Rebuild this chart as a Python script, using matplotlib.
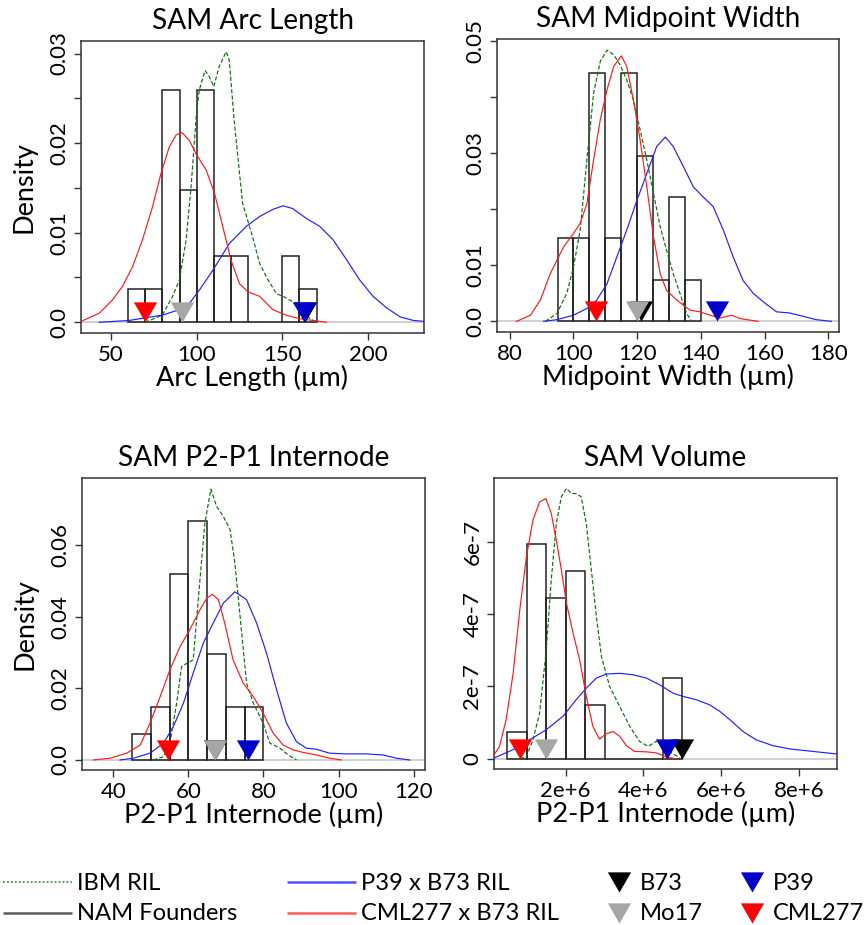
import matplotlib
matplotlib.use("Agg")
import matplotlib.pyplot as plt
from matplotlib.path import Path
import numpy as np

plt.rcParams['font.family'] = ['Lato', 'DejaVu Sans']

# ------------------------------------------------------------------ data
# Panel 1: SAM Arc Length
arc_edges = [60, 70, 80, 90, 100, 110, 120, 130, 140, 150, 160, 170]
arc_hist = [0.0037, 0.0037, 0.0259, 0.0148, 0.0259, 0.0074, 0.0074, 0.0, 0.0, 0.0074, 0.0037]
arc_ibm_x = [69.9, 80, 85.9, 89.9, 93.8, 96.7, 98.7, 100, 101.6, 104.9, 107.4, 110, 113, 117.2, 119,
             121.9, 126.8, 132.7, 136.7, 140.6, 146.5, 151.4, 156, 162, 168, 170]
arc_ibm_y = [0, 0.0008, 0.0029, 0.0047, 0.0092, 0.0151, 0.0203, 0.0237, 0.026, 0.0281, 0.0274, 0.0263,
             0.0285, 0.0302, 0.0293, 0.0225, 0.0133, 0.0095, 0.0066, 0.0051, 0.0032, 0.0028, 0.0023,
             0.001, 0.0002, 0]
arc_p39_x = [43, 60.5, 80, 89.9, 95.7, 101.6, 109.4, 119.1, 128.9, 136.7, 144.5, 150.4, 156, 164, 171.9,
             179.7, 187.5, 195.3, 203, 211, 218.8, 226.6, 233]
arc_p39_y = [0, 0.0002, 0.0008, 0.0014, 0.0021, 0.0036, 0.0058, 0.0088, 0.0107, 0.0118, 0.0126, 0.013,
             0.0127, 0.0116, 0.0107, 0.0092, 0.007, 0.0047, 0.0029, 0.0016, 0.0006, 0.0002, 0.0001]
arc_cml_x = [32.4, 43, 50.8, 56.6, 62.5, 68.3, 74.2, 79.1, 84, 87.9, 91.2, 95.7, 99.6, 105.5, 110.4,
             115.2, 120.1, 125, 129.9, 136.7, 144.5, 152, 160, 175.8]
arc_cml_y = [0.0001, 0.001, 0.0025, 0.004, 0.0062, 0.0092, 0.0129, 0.0166, 0.0196, 0.0209, 0.0212,
             0.0203, 0.0188, 0.017, 0.0144, 0.0107, 0.0069, 0.0043, 0.0034, 0.0029, 0.0014, 0.0008,
             0.0004, 0]
arc_parents = {'B73': 163.1, 'Mo17': 91.4, 'P39': 162.7, 'CML277': 69.7}

# Panel 2: SAM Midpoint Width
mid_edges = [95, 100, 105, 110, 115, 120, 125, 130, 135, 140]
mid_hist = [0.0148, 0.0148, 0.0444, 0.0148, 0.0444, 0.0296, 0.0074, 0.0222, 0.0074]
mid_ibm_x = [91.2, 94.8, 97.9, 100, 102.1, 104.2, 106.3, 108.4, 110.5, 112.6, 114.6, 116.7, 118.8,
             120.9, 123, 125.1, 127.2, 129.2, 131.3, 133.4, 135.5, 137.1]
mid_ibm_y = [0, 0.0014, 0.005, 0.0097, 0.0163, 0.0288, 0.0407, 0.0464, 0.0484, 0.0476, 0.0458, 0.0431,
             0.0395, 0.0342, 0.0288, 0.0228, 0.0169, 0.0127, 0.0085, 0.005, 0.0014, 0]
mid_p39_x = [90.6, 94.8, 100, 104.2, 107.3, 110.5, 113.6, 116.7, 119.9, 123, 126.1, 128.8, 131.3, 134.5,
             137.6, 140.7, 143.8, 147, 150.1, 153.2, 156.4, 159.5, 163.7, 167.8, 172, 176.2, 180.9]
mid_p39_y = [0, 0.0003, 0.0011, 0.0023, 0.0038, 0.0067, 0.0115, 0.0163, 0.0216, 0.0264, 0.0312, 0.0329,
             0.0312, 0.0276, 0.024, 0.0222, 0.0205, 0.0163, 0.0115, 0.0073, 0.005, 0.0035, 0.0017,
             0.0015, 0.0009, 0.0003, 0]
mid_cml_x = [82.1, 86.5, 89.6, 92.7, 95.3, 96.9, 100, 102.1, 104.2, 106.3, 108.4, 110.5, 112.6, 115,
             116.7, 118.8, 120.9, 123, 125.1, 127.2, 129.2, 132.4, 136.5, 139.7, 142.8, 145.9, 149.6,
             152.2, 157.9]
mid_cml_y = [0, 0.0011, 0.0038, 0.0085, 0.0115, 0.0133, 0.0157, 0.0175, 0.021, 0.0288, 0.036, 0.0413,
             0.0455, 0.0474, 0.0455, 0.0395, 0.0324, 0.024, 0.0151, 0.0085, 0.0055, 0.0038, 0.002,
             0.0017, 0.0011, 0.0006, 0.0011, 0.0005, 0]
mid_parents = {'B73': 121.1, 'Mo17': 119.9, 'P39': 145.1, 'CML277': 107.1}

# Panel 3: SAM P2-P1 Internode
int_edges = [45, 50, 55, 60, 65, 70, 75, 80]
int_hist = [0.0074, 0.0148, 0.0519, 0.0667, 0.0296, 0.0148, 0.0148]
int_ibm_x = [50.7, 53.4, 55.1, 56.9, 58.2, 59.6, 61.3, 63.1, 64.4, 66, 67.5, 69.3, 71.1, 72.4, 73.7,
             75.5, 77.3, 79.9, 81.7, 84.4, 86.6, 88.8]
int_ibm_y = [0, 0.0009, 0.0047, 0.0159, 0.0261, 0.027, 0.028, 0.0504, 0.0662, 0.0757, 0.0709, 0.0681,
             0.0644, 0.055, 0.041, 0.0215, 0.0159, 0.0103, 0.0047, 0.0033, 0.0014, 0]
int_p39_x = [41.8, 45.4, 49.8, 53.4, 56, 58.7, 61.3, 64, 66.6, 69.3, 72.4, 75.5, 78.2, 80.8, 83.5, 86.1,
             88.8, 91.4, 94.1, 97.6, 102.1, 107.4, 111.8, 115.4, 118.9]
int_p39_y = [0, 0.0005, 0.0019, 0.0047, 0.0093, 0.0159, 0.0243, 0.0327, 0.0382, 0.0438, 0.047, 0.0448,
             0.0382, 0.0299, 0.0196, 0.0103, 0.0051, 0.0033, 0.003, 0.0019, 0.0017, 0.0017, 0.0014,
             0.0005, 0]
int_cml_x = [34.8, 39.2, 43.6, 47.2, 49.8, 52.5, 55.1, 57.8, 60.4, 63.1, 64.9, 66.4, 68, 69.7, 71.9,
             74.6, 77.3, 79.9, 82.6, 85.2, 87.9, 90.6, 94.1, 97.6, 100.7]
int_cml_y = [0, 0.0005, 0.0019, 0.0042, 0.0103, 0.0177, 0.0252, 0.0317, 0.0364, 0.042, 0.0452, 0.0463,
             0.0448, 0.0382, 0.028, 0.0215, 0.0177, 0.0131, 0.0075, 0.0042, 0.0028, 0.0021, 0.0014,
             0.0005, 0]
int_parents = {'B73': 67.1, 'Mo17': 67.1, 'P39': 75.9, 'CML277': 54.7}

# Panel 4: SAM Volume
vol_edges = [0.5e6, 1.0e6, 1.5e6, 2.0e6, 2.5e6, 3.0e6, 3.5e6, 4.0e6, 4.5e6, 5.0e6]
vol_hist = [0.741e-7, 5.93e-7, 4.44e-7, 5.19e-7, 1.48e-7, 0.0, 0.0, 0.0, 2.22e-7]
vol_ibm_x = [0.82e6, 0.99e6, 1.16e6, 1.33e6, 1.50e6, 1.63e6, 1.76e6, 1.89e6, 2.02e6, 2.15e6, 2.27e6,
             2.40e6, 2.53e6, 2.66e6, 2.79e6, 2.92e6, 3.13e6, 3.39e6, 3.65e6, 3.90e6, 4.12e6, 4.33e6,
             4.50e6, 4.67e6, 4.93e6]
vol_ibm_y = [0, 0.06e-7, 0.52e-7, 1.26e-7, 3.0e-7, 4.94e-7, 6.5e-7, 7.24e-7, 7.47e-7, 7.33e-7, 7.33e-7,
             7.24e-7, 6.5e-7, 5.22e-7, 3.93e-7, 2.82e-7, 2.0e-7, 1.44e-7, 0.89e-7, 0.48e-7, 0.34e-7,
             0.48e-7, 0.43e-7, 0.2e-7, 0.02e-7]
vol_p39_x = [0.16e6, 0.65e6, 1.07e6, 1.50e6, 1.93e6, 2.27e6, 2.53e6, 2.79e6, 3.05e6, 3.39e6, 3.73e6,
             4.07e6, 4.42e6, 4.76e6, 5.02e6, 5.36e6, 5.70e6, 5.96e6, 6.22e6, 6.56e6, 6.90e6, 7.33e6,
             7.76e6, 8.19e6, 8.62e6, 8.98e6]
vol_p39_y = [0.02e-7, 0.25e-7, 0.52e-7, 0.8e-7, 1.17e-7, 1.63e-7, 1.95e-7, 2.23e-7, 2.34e-7, 2.36e-7,
             2.32e-7, 2.23e-7, 2.04e-7, 1.81e-7, 1.72e-7, 1.63e-7, 1.49e-7, 1.31e-7, 1.08e-7, 0.75e-7,
             0.52e-7, 0.36e-7, 0.27e-7, 0.22e-7, 0.17e-7, 0.13e-7]
vol_cml_x = [0.16e6, 0.30e6, 0.47e6, 0.65e6, 0.82e6, 0.99e6, 1.16e6, 1.33e6, 1.49e6, 1.63e6, 1.76e6,
             1.89e6, 2.02e6, 2.19e6, 2.36e6, 2.53e6, 2.70e6, 2.87e6, 3.04e6, 3.22e6, 3.39e6, 3.56e6,
             3.77e6, 4.07e6, 4.33e6, 4.59e6, 4.84e6]
vol_cml_y = [0.11e-7, 0.34e-7, 1.08e-7, 2.36e-7, 4.11e-7, 5.58e-7, 6.6e-7, 7.1e-7, 7.19e-7, 6.78e-7,
             6.04e-7, 5.22e-7, 4.3e-7, 3.47e-7, 2.73e-7, 1.72e-7, 0.89e-7, 0.54e-7, 0.69e-7, 0.75e-7,
             0.62e-7, 0.36e-7, 0.2e-7, 0.19e-7, 0.16e-7, 0.04e-7, 0]
vol_parents = {'B73': 4.99e6, 'Mo17': 1.49e6, 'P39': 4.6e6, 'CML277': 0.83e6}

titles = ['SAM Arc Length', 'SAM Midpoint Width', 'SAM P2-P1 Internode', 'SAM Volume']
xlabels = ['Arc Length (\u00b5m)', 'Midpoint Width (\u00b5m)', 'P2-P1 Internode (\u00b5m)',
           'P2-P1 Internode (\u00b5m)']
ylabels = ['Density', '', 'Density', '']

arc_xticks = [50, 100, 150, 200]
arc_xticklabels = ['50', '100', '150', '200']
arc_yticks = [0, 0.005, 0.01, 0.015, 0.02, 0.025, 0.03]
arc_yticklabels = ['0.0', '', '0.01', '', '0.02', '', '0.03']
mid_xticks = [80, 100, 120, 140, 160, 180]
mid_xticklabels = ['80', '100', '120', '140', '160', '180']
mid_yticks = [0, 0.01, 0.02, 0.03, 0.04, 0.05]
mid_yticklabels = ['0.0', '0.01', '', '0.03', '', '0.05']
int_xticks = [40, 60, 80, 100, 120]
int_xticklabels = ['40', '60', '80', '100', '120']
int_yticks = [0, 0.02, 0.04, 0.06]
int_yticklabels = ['0.0', '0.02', '0.04', '0.06']
vol_xticks = [2e6, 4e6, 6e6, 8e6]
vol_xticklabels = ['2e+6', '4e+6', '6e+6', '8e+6']
vol_yticks = [0, 2e-7, 4e-7, 6e-7]
vol_yticklabels = ['0', '2e-7', '4e-7', '6e-7']

parent_order = ['B73', 'Mo17', 'P39', 'CML277']
series_labels = ['IBM RIL', 'NAM Founders', 'P39 x B73 RIL', 'CML277 x B73 RIL']

# ------------------------------------------------------------------ style
C_IBM = '#0b6e0b'
C_P39 = '#2020ff'
C_CML = '#ff1a1a'
C_HIST = '#222222'
PARENT_COLORS = {'B73': '#000000', 'Mo17': '#a6a6a6', 'P39': '#0000c8', 'CML277': '#ff0000'}
TRI = Path([(0, 0), (-0.577, 1), (0.577, 1), (0, 0)],
           [Path.MOVETO, Path.LINETO, Path.LINETO, Path.CLOSEPOLY])
FS_TICK = 16
FS_LAB = 19.5
FS_TITLE = 20.2
FS_LEG = 17.1

W, H = 865, 925
fig = plt.figure(figsize=(W / 100, H / 100), dpi=100)


def px_axes(left, top, right, bottom):
    return fig.add_axes([left / W, 1 - bottom / H, (right - left) / W, (bottom - top) / H])


panels = [
    dict(box=(81, 41, 424, 333), xlim=(32.4, 232.8), ylim=(-0.0012, 0.0314),
         edges=arc_edges, hist=arc_hist,
         ibm=(arc_ibm_x, arc_ibm_y), p39=(arc_p39_x, arc_p39_y), cml=(arc_cml_x, arc_cml_y),
         parents=arc_parents, xt=arc_xticks, xtl=arc_xticklabels, yt=arc_yticks, ytl=arc_yticklabels),
    dict(box=(497, 39, 839, 332), xlim=(76.0, 183.3), ylim=(-0.0019, 0.0504),
         edges=mid_edges, hist=mid_hist,
         ibm=(mid_ibm_x, mid_ibm_y), p39=(mid_p39_x, mid_p39_y), cml=(mid_cml_x, mid_cml_y),
         parents=mid_parents, xt=mid_xticks, xtl=mid_xticklabels, yt=mid_yticks, ytl=mid_yticklabels),
    dict(box=(82, 478, 425, 770), xlim=(31.7, 123.0), ylim=(-0.0028, 0.0788),
         edges=int_edges, hist=int_hist,
         ibm=(int_ibm_x, int_ibm_y), p39=(int_p39_x, int_p39_y), cml=(int_cml_x, int_cml_y),
         parents=int_parents, xt=int_xticks, xtl=int_xticklabels, yt=int_yticks, ytl=int_yticklabels),
    dict(box=(494, 478, 837, 769), xlim=(0.158e6, 8.975e6), ylim=(-0.285e-7, 7.76e-7),
         edges=vol_edges, hist=vol_hist,
         ibm=(vol_ibm_x, vol_ibm_y), p39=(vol_p39_x, vol_p39_y), cml=(vol_cml_x, vol_cml_y),
         parents=vol_parents, xt=vol_xticks, xtl=vol_xticklabels, yt=vol_yticks, ytl=vol_yticklabels),
]

for i, p in enumerate(panels):
    ax = px_axes(*p['box'])
    ax.set_xlim(*p['xlim'])
    ax.set_ylim(*p['ylim'])
    ax.axhline(0, color='#c4c4c4', lw=1.1, zorder=1)
    edges = np.array(p['edges'], dtype=float)
    ax.bar(edges[:-1], p['hist'], width=np.diff(edges), align='edge', fill=False,
           edgecolor=C_HIST, linewidth=1.1, zorder=2)
    ax.plot(*p['ibm'], color=C_IBM, lw=0.85, ls=(0, (3.5, 1.8)), zorder=3)
    ax.plot(*p['p39'], color=C_P39, lw=0.85, zorder=3)
    ax.plot(*p['cml'], color=C_CML, lw=0.85, zorder=3)
    for name in parent_order:
        ax.plot([p['parents'][name]], [0], marker=TRI, markersize=29, markeredgewidth=0,
                color=PARENT_COLORS[name], linestyle='none', zorder=5)
    ax.set_xticks(p['xt'], p['xtl'])
    ax.set_yticks(p['yt'], p['ytl'])
    ax.tick_params(axis='both', direction='out', length=5, width=1, color='#333333',
                   labelsize=FS_TICK)
    ax.tick_params(axis='x', pad=3.8)
    ax.tick_params(axis='y', labelrotation=90, pad=3.4)
    for lab in ax.get_yticklabels():
        lab.set_va('center')
    for s in ax.spines.values():
        s.set_color('#333333')
        s.set_linewidth(1.1)
    ax.set_title(titles[i], fontsize=FS_TITLE, pad=8.4)
    ax.set_xlabel(xlabels[i], fontsize=FS_LAB, labelpad=0)
    if ylabels[i]:
        ax.set_ylabel(ylabels[i], fontsize=FS_LAB, labelpad=9.2)

# ------------------------------------------------------------------ legend
lax = fig.add_axes([0, 0, 1, 75 / H])
lax.set_xlim(0, W)
lax.set_ylim(H, H - 75)
lax.axis('off')
row_line = [882, 913]
row_base = [889.8, 920.3]
line_handles = [
    (series_labels[0], 3, 72, 0, dict(color='#3a9a3a', lw=1.3, ls=(0, (1, 1.2)))),
    (series_labels[1], 3, 72, 1, dict(color='#5a5a5a', lw=1.8)),
    (series_labels[2], 287, 356, 0, dict(color='#5050ff', lw=1.8)),
    (series_labels[3], 287, 356, 1, dict(color='#ff5a5a', lw=1.8)),
]
for lab, x0, x1, r, st in line_handles:
    lax.plot([x0, x1], [row_line[r], row_line[r]], solid_capstyle='butt', **st)
    lax.text(x1 + 5, row_base[r], lab, fontsize=FS_LEG, va='baseline', ha='left')
marker_handles = [('B73', 619, 0), ('Mo17', 619, 1), ('P39', 751.5, 0), ('CML277', 751.5, 1)]
for name, x, r in marker_handles:
    lax.plot([x], [row_line[r] + 10], marker=TRI, markersize=29, markeredgewidth=0,
             color=PARENT_COLORS[name], linestyle='none')
    lax.text(x + 21, row_base[r], name, fontsize=FS_LEG, va='baseline', ha='left')

fig.savefig('out.png', dpi=100)
